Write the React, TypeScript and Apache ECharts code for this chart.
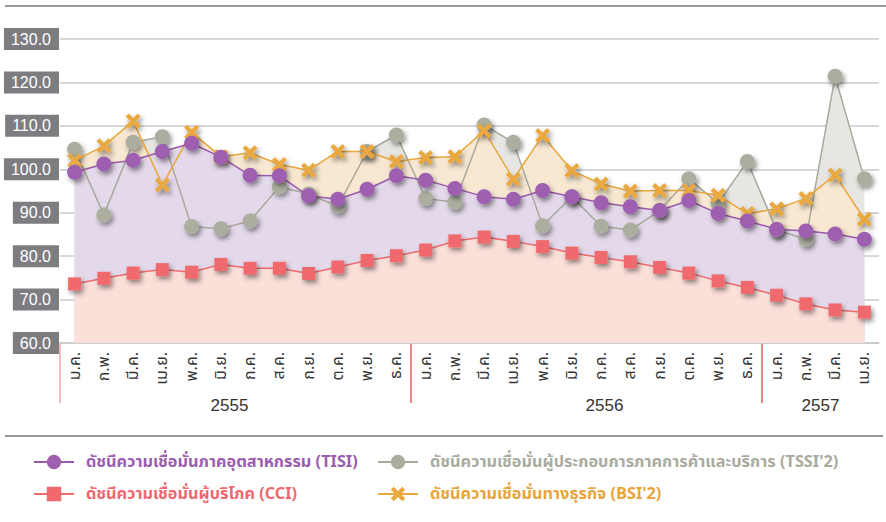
import React, { useEffect, useRef } from "react";
import * as echarts from "echarts";

const categories = [
  "ม.ค.", "ก.พ.", "มี.ค.", "เม.ย.", "พ.ค.", "มิ.ย.", "ก.ค.", "ส.ค.", "ก.ย.", "ต.ค.", "พ.ย.", "ธ.ค.",
  "ม.ค.", "ก.พ.", "มี.ค.", "เม.ย.", "พ.ค.", "มิ.ย.", "ก.ค.", "ส.ค.", "ก.ย.", "ต.ค.", "พ.ย.", "ธ.ค.",
  "ม.ค.", "ก.พ.", "มี.ค.", "เม.ย.",
];
const years = ["2555", "2556", "2557"];
const yearStarts = [0, 12, 24];
const yTicks = [60, 70, 80, 90, 100, 110, 120, 130];

const tisi = [99.3, 101.2, 102.1, 104.1, 106.0, 102.8, 98.6, 98.5, 93.9, 93.1, 95.4, 98.5,
  97.5, 95.6, 93.7, 93.1, 95.1, 93.7, 92.3, 91.4, 90.5, 92.8, 89.8, 88.1, 86.2, 85.8, 85.1, 83.9];
const cci = [73.6, 74.9, 76.1, 76.9, 76.3, 78.1, 77.2, 77.2, 76.0, 77.5, 79.0, 80.1,
  81.4, 83.5, 84.4, 83.4, 82.2, 80.7, 79.7, 78.7, 77.4, 76.1, 74.3, 72.8, 71.0, 69.0, 67.6, 67.1];
const tssi = [104.6, 89.5, 106.2, 107.5, 86.8, 86.3, 88.1, 96.0, 94.3, 91.5, 104.1, 107.9,
  93.3, 92.4, 110.2, 106.2, 87.0, 93.7, 86.9, 86.0, 90.5, 97.8, 92.2, 101.8, 86.0, 83.9, 121.4, 97.8];
const bsi = [102.0, 105.4, 111.1, 96.4, 108.5, 102.9, 103.8, 101.1, 99.8, 104.1, 104.1, 101.8,
  102.7, 102.9, 108.9, 97.7, 107.8, 99.7, 96.6, 95.0, 95.1, 95.1, 94.0, 89.8, 90.9, 93.3, 98.7, 88.5];

const NAME_TISI = "ดัชนีความเชื่อมั่นภาคอุตสาหกรรม (TISI)";
const NAME_TSSI = "ดัชนีความเชื่อมั่นผู้ประกอบการภาคการค้าและบริการ (TSSI'2)";
const NAME_CCI = "ดัชนีความเชื่อมั่นผู้บริโภค (CCI)";
const NAME_BSI = "ดัชนีความเชื่อมั่นทางธุรกิจ (BSI'2)";

const CROSS = "path://M2,0 L5,3 L8,0 L10,2 L7,5 L10,8 L8,10 L5,7 L2,10 L0,8 L3,5 L0,2 Z";
const THAI_FONT = "'Noto Sans Thai', 'Noto Sans Thai UI', Loma, Garuda, 'Liberation Sans', Arial, sans-serif";
const LATIN_FONT = "'Liberation Sans', Arial, sans-serif";

export default function App() {
  const ref = useRef<HTMLDivElement>(null);
  useEffect(() => {
    if (!ref.current) return;
    const chart = echarts.init(ref.current, null, { renderer: "svg" });

    const defs = [
      { name: NAME_TSSI, data: tssi, line: "#a8a99c", mark: "#abad9f", area: "#e7e6e2", symbol: "circle", size: 15 },
      { name: NAME_BSI, data: bsi, line: "#e8a73d", mark: "#eaa83f", area: "#f8e8d2", symbol: CROSS, size: 15 },
      { name: NAME_TISI, data: tisi, line: "#9a5aab", mark: "#9e5fb0", area: "#e4d9ea", symbol: "circle", size: 15 },
      { name: NAME_CCI, data: cci, line: "#ee6b6f", mark: "#f06a6d", area: "#fbdfd9", symbol: "rect", size: 13 },
    ];

    const areaSeries = defs.map((d, i) => ({
      name: d.name + "-area",
      type: "line",
      data: d.data,
      symbol: "none",
      silent: true,
      z: 1 + i * 0.01,
      lineStyle: { width: 0 },
      areaStyle: { color: d.area, opacity: 1, origin: "start" },
    }));

    const lineSeries = defs.map((d, i) => ({
      name: d.name,
      type: "line",
      data: d.data,
      z: 3 + i,
      symbol: d.symbol,
      symbolSize: d.size,
      lineStyle: { color: d.line, width: 1.5 },
      itemStyle: {
        color: d.mark,
        shadowBlur: 5,
        shadowColor: "rgba(0,0,0,0.45)",
        shadowOffsetX: 2,
        shadowOffsetY: 3,
      },
    }));

    const legendItem = (name: string, color: string, left: number, top: number) => ({
      data: [{ name, textStyle: { color } }],
      left,
      top,
      itemWidth: 40,
      itemHeight: 18,
      padding: 0,
      selectedMode: false,
      textStyle: { fontSize: 16.3, fontWeight: "bold", fontFamily: THAI_FONT, padding: [0, 0, 0, 7] },
    });

    const baseGraphic: any[] = [
      { type: "line", shape: { x1: 5, y1: 6, x2: 886, y2: 6 }, style: { stroke: "#9a9a9a", lineWidth: 2 } },
      { type: "line", shape: { x1: 5, y1: 436, x2: 883, y2: 436 }, style: { stroke: "#9a9a9a", lineWidth: 2 } },
    ];

    chart.setOption({
      animation: false,
      backgroundColor: "#ffffff",
      grid: { left: 60, right: 7, top: 39, bottom: 179, containLabel: false },
      legend: [
        legendItem(NAME_TISI, "#9b5db0", 33, 454),
        legendItem(NAME_CCI, "#f0686e", 33, 486),
        legendItem(NAME_TSSI, "#a9ab9e", 377, 454),
        legendItem(NAME_BSI, "#e9a43a", 377, 486),
      ],
      xAxis: {
        type: "category",
        data: categories,
        boundaryGap: true,
        axisLine: { show: true, lineStyle: { color: "#c8c8c8", width: 1.5 } },
        axisTick: { show: false },
        axisLabel: {
          rotate: 90,
          interval: 0,
          margin: 9,
          color: "#333",
          fontSize: 16,
          fontFamily: THAI_FONT,
        },
      },
      yAxis: {
        type: "value",
        min: yTicks[0],
        max: yTicks[yTicks.length - 1],
        interval: 10,
        axisLine: { show: false },
        axisTick: { show: false },
        splitLine: { lineStyle: { color: "#cacaca", width: 1.5 } },
        axisLabel: {
          formatter: (v: number) => v.toFixed(1),
          color: "#ffffff",
          backgroundColor: "#7d7d81",
          padding: [3, 8, 3, 7],
          margin: 1,
          fontSize: 16,
          fontFamily: LATIN_FONT,
        },
      },
      graphic: baseGraphic,
      series: [...areaSeries, ...lineSeries],
    });

    // separators at year boundaries and year labels, positioned through the axis scale
    const px = (i: number) => chart.convertToPixel({ xAxisIndex: 0 }, i) as number;
    const band = px(1) - px(0);
    const yAxisPx = chart.convertToPixel({ yAxisIndex: 0 }, yTicks[0]) as number;
    const yearOffsets = [-6, 18, 0];
    const extra: any[] = [];
    yearStarts.forEach((s, k) => {
      const xb = px(s) - band / 2;
      extra.push({
        type: "line",
        shape: { x1: xb, y1: yAxisPx, x2: xb, y2: yAxisPx + 60 },
        style: { stroke: k === 0 ? "#f08a8f" : "#e5323f", lineWidth: 1.2 },
      });
      const end = k + 1 < yearStarts.length ? yearStarts[k + 1] : categories.length;
      const xc = (px(s) + px(end - 1)) / 2 + yearOffsets[k];
      extra.push({
        type: "text",
        x: xc,
        y: yAxisPx + 62,
        style: { text: years[k], align: "center", verticalAlign: "middle", fontSize: 17, fill: "#333", fontFamily: LATIN_FONT },
      });
    });
    chart.setOption({ graphic: [...baseGraphic, ...extra] });

    return () => chart.dispose();
  }, []);

  return <div ref={ref} style={{ width: 886, height: 522, position: "absolute", left: 0, top: 0 }} />;
}
